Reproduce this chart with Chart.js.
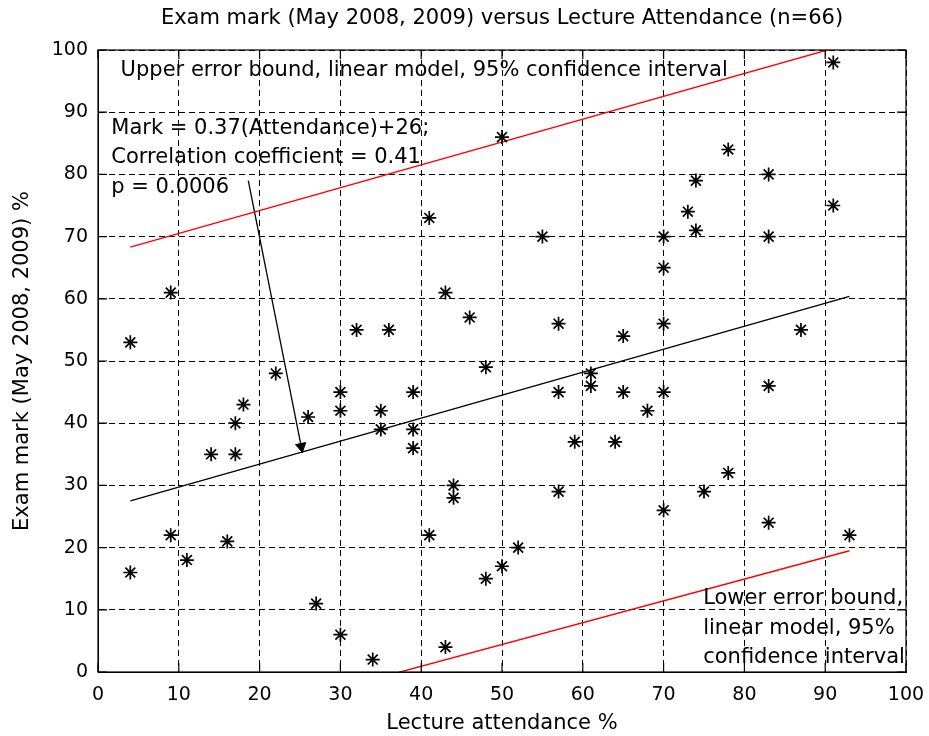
<!DOCTYPE html>
<html>
<head>
<meta charset="utf-8">
<script src="https://cdn.jsdelivr.net/npm/chart.js@4"></script>
<style>
  html, body { margin: 0; padding: 0; background: #fff; }
</style>
</head>
<body>
<canvas id="exam-chart" width="929" height="736"></canvas>
<script>
// data
const attendance = [4, 9, 32, 36, 41, 43, 46, 50, 48, 91, 78, 74, 83, 91, 73, 74, 55, 70, 83, 70,
  57, 65, 70, 87, 22, 18, 17, 14, 17, 26, 30, 30, 35, 35, 39, 39, 39, 44, 44, 9,
  16, 11, 4, 41, 48, 50, 27, 30, 34, 43, 61, 61, 57, 65, 70, 68, 83, 59, 64, 57,
  75, 78, 70, 83, 93, 52]
const marks = [53, 61, 55, 55, 73, 61, 57, 86, 49, 98, 84, 79, 80, 75, 74, 71, 70, 70, 70, 65,
  56, 54, 56, 55, 48, 43, 40, 35, 35, 41, 45, 42, 42, 39, 45, 39, 36, 30, 28, 22,
  21, 18, 16, 22, 15, 17, 11, 6, 2, 4, 48, 46, 45, 45, 45, 42, 46, 37, 37, 29,
  29, 32, 26, 24, 22, 20]

const fitX = [4, 93]
const fitY = [27.5, 60.4]
const upperX = [4, 93]
const upperY = [68.3, 101]
const lowerX = [4, 93]
const lowerY = [-11.7, 19.5]
const arrowX = [18.6, 25.3]
const arrowY = [79, 35.3]
const arrowHeadX = [25.15]
const arrowHeadY = [36.25]

const xTicks = [0, 10, 20, 30, 40, 50, 60, 70, 80, 90, 100]
const yTicks = [0, 10, 20, 30, 40, 50, 60, 70, 80, 90, 100]

const titleText = "Exam mark (May 2008, 2009) versus Lecture Attendance (n=66)"

const notes = [
  {lines: ["Upper error bound, linear model, 95% confidence interval"], x: 2.8, y: 96.7},
  {lines: ["Mark = 0.37(Attendance)+26;", "Correlation coefficient = 0.41", "p = 0.0006"], x: 1.65, y: 87.4},
  {lines: ["Lower error bound,", "linear model, 95%", "confidence interval"], x: 74.9, y: 11.8}
]

function pairs(xs, ys) {
  return xs.map((x, i) => ({x: x, y: ys[i]}))
}

const FONT = "'DejaVu Sans', sans-serif"

// box round the axes, small solid ticks inside, title over the axes and the text notes
const framePlugin = {
  id: "frame",
  afterDatasetsDraw(chart) {
    const ctx = chart.ctx
    const a = chart.chartArea
    const xs = chart.scales.x
    const ys = chart.scales.y
    ctx.save()
    ctx.strokeStyle = "#000"
    ctx.lineWidth = 1.2
    ctx.setLineDash([])
    ctx.strokeRect(a.left, a.top, a.right - a.left, a.bottom - a.top)
    ctx.beginPath()
    xTicks.forEach(v => {
      let px = xs.getPixelForValue(v)
      ctx.moveTo(px, a.bottom); ctx.lineTo(px, a.bottom - 9)
      ctx.moveTo(px, a.top); ctx.lineTo(px, a.top + 9)
    })
    yTicks.forEach(v => {
      let py = ys.getPixelForValue(v)
      ctx.moveTo(a.left, py); ctx.lineTo(a.left + 9, py)
      ctx.moveTo(a.right, py); ctx.lineTo(a.right - 9, py)
    })
    ctx.stroke()

    ctx.fillStyle = "#000"
    ctx.font = "21px " + FONT
    ctx.textBaseline = "middle"
    ctx.textAlign = "center"
    ctx.fillText(titleText, (a.left + a.right) / 2, 19)

    ctx.textAlign = "left"
    notes.forEach(n => {
      let px = xs.getPixelForValue(n.x)
      let py = ys.getPixelForValue(n.y)
      n.lines.forEach((t, i) => {
        ctx.fillText(t, px, py + i * 29.5)
      })
    })
    ctx.restore()
  }
}

const gridOpts = {color: "#000", lineWidth: 1, drawTicks: false}
const borderOpts = {display: true, color: "#000", width: 1, dash: [6, 4]}

new Chart(document.getElementById("exam-chart"), {
  type: "scatter",
  data: {
    datasets: [
      {
        label: "Students",
        data: pairs(attendance, marks),
        pointStyle: "star",
        pointRadius: 7,
        pointBorderWidth: 1.7,
        borderColor: "#000",
        backgroundColor: "#000"
      },
      {
        label: "Fit",
        data: pairs(fitX, fitY),
        showLine: true,
        pointRadius: 0,
        borderColor: "#000",
        borderWidth: 1.4
      },
      {
        label: "Upper bound",
        data: pairs(upperX, upperY),
        showLine: true,
        pointRadius: 0,
        borderColor: "#ff0000",
        borderWidth: 1.4
      },
      {
        label: "Lower bound",
        data: pairs(lowerX, lowerY),
        showLine: true,
        pointRadius: 0,
        borderColor: "#ff0000",
        borderWidth: 1.4
      },
      {
        label: "Arrow",
        data: pairs(arrowX, arrowY),
        showLine: true,
        pointRadius: 0,
        borderColor: "#000",
        borderWidth: 1.3
      },
      {
        label: "Arrow head",
        data: pairs(arrowHeadX, arrowHeadY),
        pointStyle: "triangle",
        pointRadius: 6,
        rotation: 168.6,
        borderColor: "#000",
        backgroundColor: "#000",
        borderWidth: 1
      }
    ]
  },
  options: {
    responsive: false,
    animation: false,
    devicePixelRatio: 1,
    layout: {padding: {left: 0, right: 23, top: 50, bottom: 0}},
    plugins: {
      legend: {display: false},
      tooltip: {enabled: false},
      title: {display: false}
    },
    scales: {
      x: {
        type: "linear",
        min: 0,
        max: 100,
        afterBuildTicks: s => { s.ticks = xTicks.map(v => ({value: v})) },
        afterFit: s => { s.height = 64; s.paddingRight = 0; s.paddingLeft = 0 },
        grid: gridOpts,
        border: borderOpts,
        ticks: {color: "#000", padding: 12, maxRotation: 0, font: {family: FONT, size: 19}},
        title: {
          display: true,
          text: "Lecture attendance %",
          color: "#000",
          font: {family: FONT, size: 21},
          padding: {top: 0, bottom: 0}
        }
      },
      y: {
        type: "linear",
        min: 0,
        max: 100,
        afterBuildTicks: s => { s.ticks = yTicks.map(v => ({value: v})) },
        afterFit: s => { s.width = 98 },
        grid: gridOpts,
        border: borderOpts,
        ticks: {color: "#000", padding: 10, font: {family: FONT, size: 19}},
        title: {
          display: true,
          text: "Exam mark (May 2008, 2009) %",
          color: "#000",
          font: {family: FONT, size: 21},
          padding: {top: 10, bottom: 10}
        }
      }
    }
  },
  plugins: [framePlugin]
})
</script>
</body>
</html>
